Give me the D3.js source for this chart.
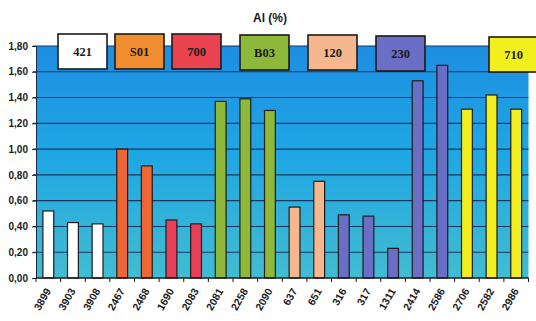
<!DOCTYPE html>
<html>
<head>
<meta charset="utf-8">
<script src="https://cdn.jsdelivr.net/npm/d3@7"></script>
<style>
  html, body { margin: 0; padding: 0; background: #fff; }
  svg { display: block; }
</style>
</head>
<body>
<svg id="chart" width="536" height="321"></svg>
<script>
// Sample identifiers along the x axis
const samples = ["3899", "3903", "3908", "2467", "2468", "1690", "2083", "2081", "2258", "2090",
                 "637", "651", "316", "317", "1311", "2414", "2586", "2706", "2582", "2986"];
// Al content (%) for each sample
const alValues = [0.52, 0.43, 0.42, 1.00, 0.87, 0.45, 0.42, 1.37, 1.39, 1.30,
                  0.55, 0.75, 0.49, 0.48, 0.23, 1.53, 1.65, 1.31, 1.42, 1.31];
// Group code each sample belongs to
const groupOf = ["421", "421", "421", "S01", "S01", "700", "700", "B03", "B03", "B03",
                 "120", "120", "230", "230", "230", "230", "230", "710", "710", "710"];
// Group codes shown in the key
const groups = ["421", "S01", "700", "B03", "120", "230", "710"];
// Y axis tick values
const yTicks = [0, 0.2, 0.4, 0.6, 0.8, 1.0, 1.2, 1.4, 1.6, 1.8];

const barColor = {
  "421": "#ffffff", "S01": "#ee6633", "700": "#e8405a", "B03": "#8db83a",
  "120": "#f6b78e", "230": "#6a6ec4", "710": "#f3ee1e"
};
const keyColor = Object.assign({}, barColor, { "S01": "#f08d30", "700": "#e9434f" });

const svg = d3.select("#chart");
const m = { left: 36, right: 7.5, top: 46, bottom: 43 };
const W = 536, H = 321;
const x0 = m.left, x1 = W - m.right, y0 = H - m.bottom, y1 = m.top;

const x = d3.scaleBand().domain(samples).range([x0, x1]).paddingInner(0.56).paddingOuter(0.28);
const y = d3.scaleLinear().domain([0, 1.8]).range([y0, y1]);

// Plot background gradient
const defs = svg.append("defs");
const grad = defs.append("linearGradient").attr("id", "bg").attr("x1", 0).attr("y1", 0).attr("x2", 0).attr("y2", 1);
grad.append("stop").attr("offset", "0%").attr("stop-color", "#1e8ee2");
grad.append("stop").attr("offset", "45%").attr("stop-color", "#1ea6e4");
grad.append("stop").attr("offset", "100%").attr("stop-color", "#42bcd2");

svg.append("rect")
  .attr("x", x0).attr("y", y1).attr("width", x1 - x0).attr("height", y0 - y1)
  .attr("fill", "url(#bg)");

// Horizontal gridlines
svg.append("g").selectAll("line").data(yTicks.filter(d => d > 0)).join("line")
  .attr("x1", x0 - 3).attr("x2", x1)
  .attr("y1", d => y(d)).attr("y2", d => y(d))
  .attr("stroke", "#16365e").attr("stroke-width", 1.1);

// Y axis
const yAxis = d3.axisLeft(y).tickValues(yTicks).tickSize(4).tickPadding(4)
  .tickFormat(d => d3.format(".2f")(d).replace(".", ","));
const gy = svg.append("g").attr("transform", `translate(${x0},0)`).call(yAxis);
gy.select(".domain").attr("stroke", "#1b2a3c").attr("stroke-width", 1);
gy.selectAll(".tick line").attr("stroke", "#1b2a3c");
gy.selectAll("text").attr("font-family", "Liberation Sans, Arial, sans-serif")
  .attr("font-weight", "bold").attr("font-size", 10).attr("fill", "#1a1a1a");

// Bars
svg.append("g").selectAll("rect").data(samples).join("rect")
  .attr("x", d => x(d))
  .attr("y", (d, i) => y(alValues[i]))
  .attr("width", x.bandwidth())
  .attr("height", (d, i) => y(0) - y(alValues[i]))
  .attr("fill", (d, i) => barColor[groupOf[i]])
  .attr("stroke", "#1c1c1c").attr("stroke-width", 1.2);

// X axis with ticks between categories
const step = x.step();
const xb = d3.scaleLinear().domain([0, samples.length]).range([x0, x1]);
const gx = svg.append("g").attr("transform", `translate(0,${y0})`);
gx.append("line").attr("x1", x0).attr("x2", x1).attr("stroke", "#1b1b1b").attr("stroke-width", 1.4);
gx.selectAll("line.tk").data(d3.range(samples.length + 1)).join("line")
  .attr("class", "tk")
  .attr("x1", d => xb(d)).attr("x2", d => xb(d)).attr("y1", 0).attr("y2", 4)
  .attr("stroke", "#1b1b1b");
gx.selectAll("text").data(samples).join("text")
  .attr("transform", d => `translate(${x(d) + x.bandwidth() / 2 + 3},${13}) rotate(-60)`)
  .attr("text-anchor", "end")
  .attr("font-family", "Liberation Sans, Arial, sans-serif")
  .attr("font-weight", "bold").attr("font-size", 10.5).attr("fill", "#1a1a1a")
  .text(d => d);

// Title
svg.append("text")
  .attr("x", 270).attr("y", 22)
  .attr("text-anchor", "middle")
  .attr("font-family", "Liberation Sans, Arial, sans-serif")
  .attr("font-weight", "bold").attr("font-size", 12).attr("fill", "#1a1a1a")
  .text("Al (%)");

// Group key boxes along the top
const keyLeft = [58, 115, 172, 240, 308, 376, 489];
const keyTop = [34, 34, 34, 35, 35, 36, 37];
const key = svg.append("g").selectAll("g").data(groups).join("g")
  .attr("transform", (d, i) => `translate(${keyLeft[i]},${keyTop[i]})`);
key.append("rect")
  .attr("width", 49).attr("height", 35)
  .attr("fill", d => keyColor[d])
  .attr("stroke", "#1a1a1a").attr("stroke-width", 1.6);
key.append("text")
  .attr("x", 24.5).attr("y", 22)
  .attr("text-anchor", "middle")
  .attr("font-family", "Liberation Serif, Times New Roman, serif")
  .attr("font-weight", "bold").attr("font-size", 12.5).attr("fill", "#1a1a1a")
  .text(d => d);
</script>
</body>
</html>
